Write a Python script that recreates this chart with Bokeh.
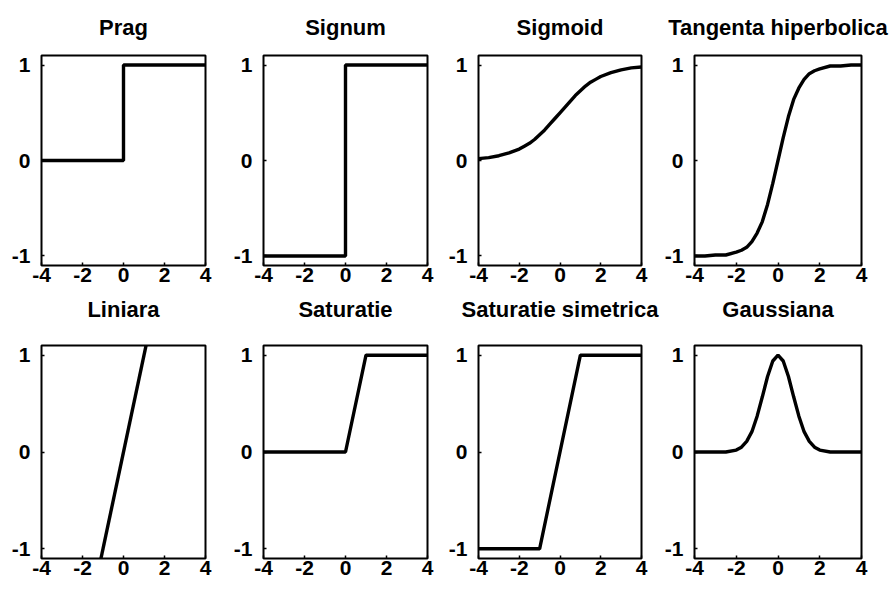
from bokeh.plotting import figure
from bokeh.layouts import column, row
from bokeh.models import FixedTicker, Range1d, Title
from bokeh.embed import file_html
from bokeh.resources import INLINE

# ---- data ----
titles_top = ["Prag", "Signum", "Sigmoid", "Tangenta hiperbolica"]
titles_bottom = ["Liniara", "Saturatie", "Saturatie simetrica", "Gaussiana"]

x_ticks = [-4, -2, 0, 2, 4]
x_tick_labels = ["-4", "-2", "0", "2", "4"]
y_ticks = [-1, 0, 1]
y_tick_labels = ["-1", "0", "1"]

x_step = [-4, 0, 0, 4]
y_prag = [0, 0, 1, 1]
y_signum = [-1, -1, 1, 1]

x_smooth = [-4, -3.5, -3, -2.5, -2, -1.75, -1.5, -1.25, -1, -0.75, -0.5, -0.25, 0,
            0.25, 0.5, 0.75, 1, 1.25, 1.5, 1.75, 2, 2.5, 3, 3.5, 4]
y_sigmoid = [0.02, 0.03, 0.05, 0.08, 0.12, 0.15, 0.18, 0.22, 0.27, 0.32, 0.38, 0.44, 0.50,
             0.56, 0.62, 0.68, 0.73, 0.78, 0.82, 0.85, 0.88, 0.92, 0.95, 0.97, 0.98]
y_tanh = [-1.00, -1.00, -0.99, -0.99, -0.96, -0.94, -0.91, -0.85, -0.76, -0.64, -0.46, -0.24, 0.00,
          0.24, 0.46, 0.64, 0.76, 0.85, 0.91, 0.94, 0.96, 0.99, 0.99, 1.00, 1.00]
y_gauss = [0.00, 0.00, 0.00, 0.00, 0.02, 0.05, 0.11, 0.21, 0.37, 0.57, 0.78, 0.94, 1.00,
           0.94, 0.78, 0.57, 0.37, 0.21, 0.11, 0.05, 0.02, 0.00, 0.00, 0.00, 0.00]

x_lin = [-1.3, 1.3]
y_lin = [-1.3, 1.3]

x_sat = [-4, 0, 1, 4]
y_sat = [0, 0, 1, 1]
x_satsym = [-4, -1, 1, 4]
y_satsym = [-1, -1, 1, 1]

series_top = [(x_step, y_prag), (x_step, y_signum), (x_smooth, y_sigmoid), (x_smooth, y_tanh)]
series_bottom = [(x_lin, y_lin), (x_sat, y_sat), (x_satsym, y_satsym), (x_smooth, y_gauss)]

# ---- layout ----
FONT = "Liberation Sans"
FS = "21px"
FS_TITLE = "22px"
fig_widths = [230, 215, 216, 233]
left_borders = [41, 33, 33, 33]
frame_widths = [164, 164, 163, 167]


def style_axis(ax):
    ax.axis_line_color = None
    ax.major_tick_in = 3
    ax.major_tick_out = 0
    ax.major_tick_line_width = 1.5
    ax.major_tick_line_color = "black"
    ax.minor_tick_line_color = None
    ax.major_label_text_font = FONT
    ax.major_label_text_font_size = FS
    ax.major_label_text_font_style = "bold"
    ax.major_label_text_color = "black"


def style_title(t, standoff):
    t.align = "center"
    t.vertical_align = "top"
    t.text_font = FONT
    t.text_font_size = FS_TITLE
    t.text_font_style = "bold"
    t.text_color = "black"
    t.standoff = standoff


def make(xs, ys, width, left, frame_w, height, top, frame_h):
    p = figure(width=width, height=height, output_backend="svg", toolbar_location=None,
               tools="", x_range=Range1d(-4, 4), y_range=Range1d(-1.1, 1.1),
               min_border_left=left, min_border_right=width - left - frame_w,
               min_border_top=top, min_border_bottom=height - top - frame_h,
               background_fill_color="white", border_fill_color="white")
    p.grid.visible = False
    p.outline_line_color = "black"
    p.outline_line_width = 2
    p.xaxis.ticker = FixedTicker(ticks=x_ticks)
    p.yaxis.ticker = FixedTicker(ticks=y_ticks)
    p.xaxis.major_label_overrides = dict(zip(x_ticks, x_tick_labels))
    p.yaxis.major_label_overrides = dict(zip(y_ticks, y_tick_labels))
    style_axis(p.xaxis[0])
    style_axis(p.yaxis[0])
    p.xaxis[0].major_label_standoff = 2
    p.yaxis[0].major_label_standoff = 11
    p.line(xs, ys, line_color="black", line_width=3.4)
    return p


top_row = []
for i in range(4):
    p = make(series_top[i][0], series_top[i][1], fig_widths[i], left_borders[i],
             frame_widths[i], 343, 55, 210)
    # title of this panel
    t_top = Title(text=titles_top[i])
    style_title(t_top, 27)
    p.add_layout(t_top, "above")
    # title of the panel below it (placed right under this panel's tick labels)
    t_low = Title(text=titles_bottom[i])
    style_title(t_low, 24)
    p.add_layout(t_low, "below")
    top_row.append(p)

bottom_row = [make(series_bottom[i][0], series_bottom[i][1], fig_widths[i], left_borders[i],
                   frame_widths[i], 249, 2, 213) for i in range(4)]

layout = column(row(*top_row), row(*bottom_row))

open("out.html", "w").write(file_html(layout, INLINE))
